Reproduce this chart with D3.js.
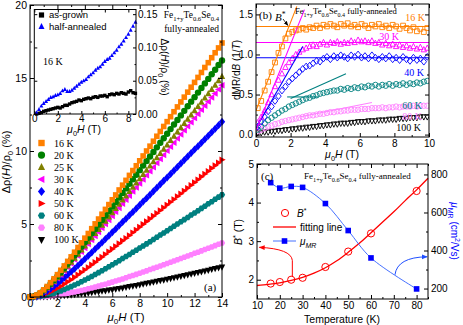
<!DOCTYPE html>
<html>
<head>
<meta charset="utf-8">
<script src="https://cdn.jsdelivr.net/npm/d3@7"></script>
<style>
  body { margin: 0; background: #fff; }
  svg { display: block; }
</style>
</head>
<body>
<svg id="fig" width="463" height="325"></svg>
<script>
var SANS = '"Liberation Sans", Arial, sans-serif',
    SERIF = '"Liberation Serif", "Times New Roman", serif';

// ---- panel (a): MR vs field, fully-annealed ----
var fieldA = [0,0.25,0.5,0.75,1,1.25,1.5,1.75,2,2.25,2.5,2.75,3,3.25,3.5,3.75,4,4.25,4.5,4.75,5,5.25,5.5,5.75,6,6.25,6.5,6.75,7,7.25,7.5,7.75,8,8.25,8.5,8.75,9,9.25,9.5,9.75,10,10.25,10.5,10.75,11,11.25,11.5,11.75,12,12.25,12.5,12.75,13,13.25,13.5,13.75,14];
var mr16 = [0,.04,.14,.29,.49,.72,.98,1.25,1.53,1.83,2.13,2.44,2.75,3.07,3.39,3.71,4.03,4.35,4.68,5.01,5.34,5.67,6.0,6.33,6.66,6.99,7.33,7.66,7.99,8.33,8.66,8.99,9.33,9.66,10.0,10.33,10.67,11.01,11.34,11.68,12.01,12.35,12.69,13.02,13.36,13.69,14.03,14.37,14.7,15.04,15.38,15.72,16.05,16.39,16.73,17.06,17.4];
var mr20 = [0,.03,.13,.27,.46,.67,.91,1.16,1.43,1.70,1.98,2.27,2.56,2.86,3.15,3.45,3.75,4.05,4.36,4.66,4.97,5.28,5.58,5.89,6.20,6.51,6.82,7.13,7.44,7.75,8.06,8.37,8.69,9.0,9.31,9.62,9.93,10.25,10.56,10.87,11.18,11.5,11.81,12.12,12.44,12.75,13.06,13.38,13.69,14.0,14.32,14.63,14.94,15.26,15.57,15.89,16.2];
var mr25 = [0,.03,.12,.25,.43,.63,.85,1.08,1.33,1.59,1.85,2.12,2.39,2.66,2.94,3.22,3.5,3.78,4.06,4.35,4.63,4.92,5.2,5.49,5.78,6.07,6.36,6.65,6.93,7.23,7.52,7.81,8.1,8.39,8.68,8.97,9.26,9.55,9.84,10.13,10.42,10.72,11.01,11.3,11.59,11.88,12.18,12.47,12.76,13.05,13.35,13.64,13.93,14.22,14.51,14.81,15.1];
var mr30 = [0,.03,.11,.24,.41,.6,.81,1.04,1.28,1.52,1.77,2.03,2.29,2.56,2.82,3.09,3.36,3.63,3.9,4.17,4.45,4.72,5.0,5.27,5.55,5.83,6.1,6.38,6.66,6.94,7.22,7.5,7.77,8.05,8.33,8.61,8.89,9.17,9.45,9.73,10.01,10.29,10.57,10.85,11.13,11.41,11.69,11.97,12.25,12.53,12.82,13.1,13.38,13.66,13.94,14.22,14.5];
var mr40 = [0,.02,.07,.16,.28,.41,.57,.74,.92,1.12,1.31,1.52,1.73,1.94,2.16,2.38,2.6,2.83,3.05,3.28,3.51,3.74,3.97,4.2,4.43,4.66,4.9,5.13,5.36,5.6,5.83,6.07,6.3,6.54,6.77,7.01,7.25,7.48,7.72,7.96,8.19,8.43,8.67,8.91,9.14,9.38,9.62,9.86,10.1,10.33,10.57,10.81,11.05,11.29,11.53,11.77,12.0];
var mr50 = [0,.01,.04,.1,.17,.26,.36,.48,.61,.74,.89,1.04,1.19,1.35,1.52,1.69,1.86,2.03,2.21,2.38,2.56,2.74,2.92,3.11,3.29,3.47,3.66,3.85,4.03,4.22,4.41,4.6,4.79,4.98,5.17,5.36,5.55,5.74,5.93,6.12,6.31,6.5,6.69,6.89,7.08,7.27,7.46,7.66,7.85,8.04,8.24,8.43,8.62,8.82,9.01,9.2,9.4];
var mr60 = [0,.01,.02,.05,.09,.14,.2,.26,.34,.42,.51,.61,.71,.82,.93,1.04,1.16,1.28,1.41,1.54,1.67,1.8,1.93,2.07,2.21,2.34,2.48,2.63,2.77,2.91,3.06,3.2,3.35,3.5,3.64,3.79,3.94,4.09,4.24,4.39,4.54,4.69,4.84,5.0,5.15,5.3,5.45,5.61,5.76,5.91,6.07,6.22,6.38,6.53,6.69,6.84,7.0];
var mr80 = [0,0,.01,.02,.03,.05,.08,.11,.14,.17,.21,.25,.3,.34,.4,.45,.5,.56,.62,.69,.75,.82,.88,.95,1.02,1.1,1.17,1.24,1.32,1.4,1.47,1.55,1.63,1.71,1.79,1.88,1.96,2.04,2.12,2.21,2.29,2.38,2.46,2.55,2.64,2.72,2.81,2.9,2.99,3.07,3.16,3.25,3.34,3.43,3.52,3.61,3.7];
var mr100 = [0,0,0,.01,.02,.02,.04,.05,.06,.08,.1,.12,.14,.16,.18,.21,.24,.27,.3,.33,.36,.4,.43,.47,.5,.54,.58,.62,.66,.71,.75,.79,.84,.88,.93,.97,1.02,1.07,1.12,1.16,1.21,1.26,1.31,1.36,1.41,1.47,1.52,1.57,1.62,1.67,1.73,1.78,1.83,1.89,1.94,2.0,2.05];

// inset of (a): 16 K, other samples
var fieldInset = [0.2,0.4,0.6,0.8,1,1.2,1.4,1.6,1.8,2,2.2,2.4,2.6,2.8,3,3.2,3.4,3.6,3.8,4,4.2,4.4,4.6,4.8,5,5.2,5.4,5.6,5.8,6,6.2,6.4,6.6,6.8,7,7.2,7.4,7.6,7.8,8,8.2,8.4,8.6];
var asGrown = [0,.001,.002,.004,.005,.006,.007,.008,.009,.010,.009,.011,.013,.013,.015,.017,.018,.019,.021,.020,.022,.023,.024,.023,.025,.026,.025,.027,.027,.028,.026,.029,.030,.029,.031,.030,.032,.031,.030,.033,.035,.032,.031];
var halfAnnealed = [.002,.007,.012,.016,.019,.022,.025,.026,.028,.029,.031,.035,.037,.034,.034,.036,.039,.042,.045,.048,.050,.052,.056,.059,.062,.066,.069,.071,.075,.079,.082,.084,.088,.092,.096,.101,.105,.110,.115,.120,.126,.132,.138];

// ---- panel (b): dMR/dB ----
var fieldB = [0.1,0.3,0.5,0.7,0.9,1.1,1.3,1.5,1.7,1.9,2.1,2.3,2.5,2.7,2.9,3.1,3.3,3.5,3.7,3.9,4.1,4.3,4.5,4.7,4.9,5.1,5.3,5.5,5.7,5.9,6.1,6.3,6.5,6.7,6.9,7.1,7.3,7.5,7.7,7.9,8.1,8.3,8.5,8.7,8.9,9.1,9.3,9.5,9.7,9.9];
var d16 = [.33,.42,.55,.66,.78,.90,1.02,1.1,1.2,1.26,1.28,1.3,1.31,1.33,1.31,1.34,1.33,1.36,1.33,1.37,1.35,1.38,1.36,1.34,1.38,1.36,1.39,1.35,1.37,1.34,1.38,1.36,1.33,1.37,1.35,1.38,1.34,1.36,1.33,1.37,1.35,1.32,1.36,1.33,1.3,1.34,1.29,1.32,1.28,1.33];
var d30 = [.15,.22,.3,.4,.5,.6,.68,.76,.84,.9,.95,1.0,1.03,1.06,1.08,1.1,1.12,1.1,1.13,1.15,1.12,1.15,1.14,1.16,1.13,1.15,1.14,1.17,1.15,1.18,1.16,1.17,1.15,1.17,1.14,1.15,1.12,1.14,1.11,1.13,1.1,1.12,1.09,1.11,1.08,1.1,1.07,1.09,1.06,1.08];
var d40 = [.1,.16,.22,.29,.35,.42,.48,.55,.6,.66,.7,.74,.78,.82,.85,.86,.89,.92,.91,.95,.97,.94,.98,.96,.99,.97,.95,.99,.97,1.0,.96,.98,.95,.99,.96,.94,.97,.95,.98,.94,.96,.93,.97,.94,.92,.96,.93,.95,.91,.97];
var d60 = [.06,.1,.14,.18,.21,.24,.27,.3,.32,.35,.37,.39,.41,.43,.45,.46,.48,.49,.51,.52,.53,.54,.55,.55,.57,.56,.58,.57,.59,.58,.6,.59,.61,.6,.62,.6,.62,.61,.63,.61,.63,.62,.64,.62,.64,.63,.65,.64,.66,.67];
var d80 = [.04,.06,.08,.1,.11,.13,.14,.16,.17,.18,.19,.2,.21,.22,.23,.24,.24,.25,.26,.26,.27,.28,.28,.29,.29,.3,.3,.31,.31,.31,.32,.32,.32,.33,.33,.33,.34,.33,.34,.34,.35,.34,.35,.35,.35,.36,.35,.36,.36,.36];
var d100 = [.02,.02,.03,.03,.04,.04,.05,.05,.06,.06,.07,.07,.08,.08,.09,.09,.1,.1,.11,.11,.12,.12,.13,.13,.14,.14,.14,.15,.15,.16,.16,.16,.17,.17,.17,.18,.18,.18,.19,.19,.19,.2,.2,.2,.21,.21,.21,.22,.22,.22];

// fitted lines of (b), end points [field, dMR/dB]
var fit16 = [[[0, 0.3], [2.36, 1.6]], [[0, 1.35], [10, 1.35]]];
var fit30 = [[[0, 0.05], [2.8, 1.56]], [[0, 1.15], [10, 1.15]]];
var fit40 = [[[0, 0.08], [2.7, 1.1]], [[0, 0.96], [10, 0.96]]];
var fit60 = [[[1.8, 0.47], [3.6, 0.47]], [[2.0, 0.45], [5.2, 0.76]]];
var fit80 = [[[2.5, 0.22], [6.7, 0.40]]];

// ---- panel (c): B* and mobility vs T ----
var tempC = [16, 20, 25, 30, 40, 50, 60, 80];
var bStar = [1.9, 1.94, 2.0, 2.05, 2.33, 2.73, 3.2, 4.3];
var muMR = [757, 728, 737, 732, 647, 505, 361, 198];
var fitT = [10,15,20,25,30,35,40,45,50,55,60,65,70,75,80,85];
var fitB = [1.85,1.88,1.92,1.98,2.06,2.17,2.31,2.49,2.71,2.95,3.22,3.49,3.76,4.05,4.33,4.63];

var seriesA = [
    {label: '16 K', color: '#ff8000', shape: 'square', v: mr16},
    {label: '20 K', color: '#008000', shape: 'circle', v: mr20},
    {label: '25 K', color: '#808000', shape: 'up', v: mr25},
    {label: '30 K', color: '#ff00ff', shape: 'left', v: mr30},
    {label: '40 K', color: '#0000ff', shape: 'diamond', v: mr40},
    {label: '50 K', color: '#ff0000', shape: 'right', v: mr50},
    {label: '60 K', color: '#008080', shape: 'hex', v: mr60},
    {label: '80 K', color: '#ff80ff', shape: 'hex', v: mr80},
    {label: '100 K', color: '#000000', shape: 'down', v: mr100}
];

var seriesB = [
    {label: '100 K', color: '#000000', shape: 'down', v: d100, fits: []},
    {label: '80 K', color: '#ff80ff', shape: 'circle', v: d80, fits: fit80},
    {label: '60 K', color: '#008080', shape: 'circle', v: d60, fits: fit60},
    {label: '40 K', color: '#0000ff', shape: 'diamond', v: d40, fits: fit40},
    {label: '30 K', color: '#ff00ff', shape: 'up', v: d30, fits: fit30},
    {label: '16 K', color: '#ff8000', shape: 'square', v: d16, fits: fit16}
];

var svg = d3.select('#fig');

function markerPath(shape, r) {
    var pts;
    switch (shape) {
    case 'square':
        return 'M' + (-r) + ',' + (-r) + 'h' + 2 * r + 'v' + 2 * r + 'h' + (-2 * r) + 'Z';
    case 'circle':
        return 'M' + r + ',0A' + r + ',' + r + ' 0 1,1 ' + (-r) + ',0A' + r + ',' + r + ' 0 1,1 ' + r + ',0Z';
    case 'diamond':
        pts = [[0, -r * 1.25], [r, 0], [0, r * 1.25], [-r, 0]]; break;
    case 'hex':
        pts = d3.range(6).map(function (i) { var a = Math.PI / 3 * i; return [r * Math.cos(a), r * Math.sin(a)]; }); break;
    case 'up':
        pts = [[0, -r * 1.15], [r, r * 0.8], [-r, r * 0.8]]; break;
    case 'down':
        pts = [[0, r * 1.15], [r, -r * 0.8], [-r, -r * 0.8]]; break;
    case 'left':
        pts = [[-r * 1.15, 0], [r * 0.8, -r], [r * 0.8, r]]; break;
    case 'right':
        pts = [[r * 1.15, 0], [-r * 0.8, -r], [-r * 0.8, r]]; break;
    }
    return 'M' + pts.map(function (p) { return p[0].toFixed(2) + ',' + p[1].toFixed(2); }).join('L') + 'Z';
}

// text with italic / sub / sup pieces
function rich(g, x, y, parts, size, font) {
    var t = g.append('text').attr('x', x).attr('y', y)
        .attr('font-size', size).attr('font-family', font || SANS);
    var shift = 0;
    parts.forEach(function (p) {
        if (typeof p === 'string') p = {t: p};
        var ts = t.append('tspan').text(p.t);
        var target = 0;
        if (p.sub) { target = size * 0.3; ts.attr('font-size', size * 0.7); }
        if (p.sup) { target = -size * 0.4; ts.attr('font-size', size * 0.7); }
        if (p.i) ts.attr('font-style', 'italic');
        if (target !== shift) { ts.attr('dy', target - shift); shift = target; }
    });
    return t;
}

function axis(g, gen, tr, vals, size, fmt, fs, pad) {
    gen.tickValues(vals).tickSize(size).tickPadding(pad == null ? 3 : pad).tickFormat(fmt || '');
    var a = g.append('g').attr('transform', tr).call(gen)
        .attr('font-family', SANS).attr('font-size', fs || 10);
    a.select('.domain').remove();
    a.selectAll('line').attr('stroke', '#000');
    a.selectAll('text').attr('fill', '#000');
    return a;
}

function frame(g, x, y) {
    g.append('rect')
        .attr('x', x.range()[0]).attr('y', y.range()[1])
        .attr('width', x.range()[1] - x.range()[0])
        .attr('height', y.range()[0] - y.range()[1])
        .attr('fill', 'none').attr('stroke', '#000').attr('stroke-width', 1);
}

function boxAxes(g, x, y, o) {
    var x0 = x.range()[0], x1 = x.range()[1], y0 = y.range()[0], y1 = y.range()[1];
    axis(g, d3.axisBottom(x), 'translate(0,' + y0 + ')', o.xt, -4, o.xf, o.fs);
    axis(g, d3.axisBottom(x), 'translate(0,' + y0 + ')', o.xm, -2);
    axis(g, d3.axisTop(x), 'translate(0,' + y1 + ')', o.xt, -4);
    axis(g, d3.axisTop(x), 'translate(0,' + y1 + ')', o.xm, -2);
    axis(g, d3.axisLeft(y), 'translate(' + x0 + ',0)', o.yt, -4, o.yf, o.fs);
    axis(g, d3.axisLeft(y), 'translate(' + x0 + ',0)', o.ym, -2);
    axis(g, d3.axisRight(y), 'translate(' + x1 + ',0)', o.yt, -4);
    axis(g, d3.axisRight(y), 'translate(' + x1 + ',0)', o.ym, -2);
    frame(g, x, y);
}

function formulaParts() {
    return ['Fe', {t: '1+y', sub: 1}, 'Te', {t: '0.6', sub: 1}, 'Se', {t: '0.4', sub: 1}];
}

var defs = svg.append('defs');
[['arrK', '#000'], ['arrR', '#ff0000'], ['arrB', '#2050ff']].forEach(function (m) {
    defs.append('marker').attr('id', m[0]).attr('viewBox', '0 0 10 10')
        .attr('refX', 9).attr('refY', 5).attr('markerWidth', 6).attr('markerHeight', 6)
        .attr('orient', 'auto-start-reverse')
        .append('path').attr('d', 'M0,1L10,5L0,9Z').attr('fill', m[1]);
});

// ======================= panel (a) =======================
var gA = svg.append('g');
var xA = d3.scaleLinear([0, 14], [30, 222]),
    yA = d3.scaleLinear([0, 20], [297, 5]);

seriesA.slice().reverse().forEach(function (s) {
    gA.append('g').selectAll('path').data(d3.zip(fieldA, s.v)).join('path')
        .attr('transform', function (d) { return 'translate(' + xA(d[0]) + ',' + yA(d[1]) + ')'; })
        .attr('d', markerPath(s.shape, s.shape === 'square' ? 2.8 : 3.2))
        .attr('fill', s.color);
});

boxAxes(gA, xA, yA, {
    xt: d3.range(0, 15, 2), xm: d3.range(1, 14, 2), xf: d3.format('d'),
    yt: [0, 5, 10, 15, 20], ym: [2.5, 7.5, 12.5, 17.5], yf: d3.format('d'), fs: 10.5
});

rich(gA, 126, 321, [{t: 'μ', i: 1}, {t: '0', sub: 1}, {t: 'H', i: 1}, ' (T)'], 11.5)
    .attr('text-anchor', 'middle');
rich(gA.append('g').attr('transform', 'translate(10,162) rotate(-90)'), 0, 0,
    ['Δρ(', {t: 'H', i: 1}, ')/ρ', {t: '0', sub: 1}, ' (%)'], 11)
    .attr('text-anchor', 'middle');

// legend (a)
var legA = gA.append('g');
seriesA.forEach(function (s, i) {
    var y = 143 + i * 12.1;
    legA.append('path').attr('transform', 'translate(41.5,' + y + ')')
        .attr('d', markerPath(s.shape, s.shape === 'square' ? 3.2 : 3.6)).attr('fill', s.color);
    legA.append('text').attr('x', 54).attr('y', y + 3.5)
        .attr('font-family', SERIF).attr('font-size', 10).text(s.label);
});

rich(gA, 219, 18, formulaParts(), 9.5, SERIF).attr('text-anchor', 'end');
gA.append('text').attr('x', 219).attr('y', 32).attr('text-anchor', 'end')
    .attr('font-family', SERIF).attr('font-size', 9.5).text('fully-annealed');
gA.append('text').attr('x', 204).attr('y', 291)
    .attr('font-family', SERIF).attr('font-size', 11).text('(a)');

// inset
var gI = svg.append('g');
var xI = d3.scaleLinear([0, 8.65], [34.3, 136]),
    yI = d3.scaleLinear([0, 0.157], [114, 9.5]);
gI.append('rect').attr('x', 34.3).attr('y', 9.5).attr('width', 136 - 34.3).attr('height', 114 - 9.5)
    .attr('fill', '#fff');
gI.append('g').selectAll('path').data(d3.zip(fieldInset, asGrown)).join('path')
    .attr('transform', function (d) { return 'translate(' + xI(d[0]) + ',' + yI(d[1]) + ')'; })
    .attr('d', markerPath('square', 1.7)).attr('fill', '#000');
gI.append('g').selectAll('path').data(d3.zip(fieldInset, halfAnnealed)).join('path')
    .attr('transform', function (d) { return 'translate(' + xI(d[0]) + ',' + yI(d[1]) + ')'; })
    .attr('d', markerPath('up', 2.0)).attr('fill', '#0000ff');

axis(gI, d3.axisBottom(xI), 'translate(0,114)', [0, 2, 4, 6, 8], -3, d3.format('d'), 10, 1);
axis(gI, d3.axisBottom(xI), 'translate(0,114)', [1, 3, 5, 7], -1.5);
axis(gI, d3.axisTop(xI), 'translate(0,9.5)', [0, 2, 4, 6, 8], -3);
axis(gI, d3.axisRight(yI), 'translate(136,0)', [0, 0.05, 0.1, 0.15], -3, d3.format('.2f'), 10, 2);
axis(gI, d3.axisRight(yI), 'translate(136,0)', [0.025, 0.075, 0.125], -1.5);
axis(gI, d3.axisLeft(yI), 'translate(34.3,0)', [0, 0.05, 0.1, 0.15], -3);
frame(gI, xI, yI);

rich(gI, 84, 133, [{t: 'μ', i: 1}, {t: '0', sub: 1}, {t: 'H', i: 1}, ' (T)'], 10.5)
    .attr('text-anchor', 'middle');
rich(gI.append('g').attr('transform', 'translate(161,67) rotate(90)'), 0, 0,
    ['Δρ(', {t: 'H', i: 1}, ')/ρ', {t: '0', sub: 1}, ' (%)'], 10)
    .attr('text-anchor', 'middle');
gI.append('path').attr('transform', 'translate(41.5,15)').attr('d', markerPath('square', 2.6));
gI.append('text').attr('x', 49).attr('y', 18).attr('font-family', SANS).attr('font-size', 9.5).text('as-grown');
gI.append('path').attr('transform', 'translate(41.5,26.5)').attr('d', markerPath('up', 3)).attr('fill', '#0000ff');
gI.append('text').attr('x', 49).attr('y', 29.5).attr('font-family', SANS).attr('font-size', 9.5).text('half-annealed');
gI.append('text').attr('x', 43).attr('y', 65).attr('font-family', SERIF).attr('font-size', 10).text('16 K');

// ======================= panel (b) =======================
var gB = svg.append('g');
var xB = d3.scaleLinear([0, 10], [256, 429]),
    yB = d3.scaleLinear([-0.03, 1.63], [137, 4]);

defs.append('clipPath').attr('id', 'clipB').append('rect')
    .attr('x', 256).attr('y', 4).attr('width', 173).attr('height', 133);

var plotB = gB.append('g').attr('clip-path', 'url(#clipB)');
seriesB.forEach(function (s) {
    plotB.append('g').selectAll('path').data(d3.zip(fieldB, s.v)).join('path')
        .attr('transform', function (d) { return 'translate(' + xB(d[0]) + ',' + yB(d[1]) + ')'; })
        .attr('d', markerPath(s.shape, s.shape === 'square' ? 2.4 : 2.7))
        .attr('fill', 'none').attr('stroke', s.color).attr('stroke-width', 0.9);
});
var lineB = d3.line().x(function (d) { return xB(d[0]); }).y(function (d) { return yB(d[1]); });
seriesB.forEach(function (s) {
    s.fits.forEach(function (f) {
        plotB.append('path').attr('d', lineB(f)).attr('fill', 'none')
            .attr('stroke', s.color).attr('stroke-width', 1.1);
    });
});

boxAxes(gB, xB, yB, {
    xt: [0, 2, 4, 6, 8, 10], xm: [1, 3, 5, 7, 9], xf: d3.format('d'),
    yt: [0, 0.5, 1, 1.5], ym: [0.25, 0.75, 1.25], yf: d3.format('.1f'), fs: 10
});

rich(gB, 342, 158, [{t: 'μ', i: 1}, {t: '0', sub: 1}, {t: 'H', i: 1}, ' (T)'], 10.5)
    .attr('text-anchor', 'middle');
rich(gB.append('g').attr('transform', 'translate(240,70) rotate(-90)'), 0, 0,
    ['dMR/d', {t: 'B', i: 1}, ' (1/', {t: 'T', i: 1}, ')'], 10)
    .attr('text-anchor', 'middle');

gB.append('text').attr('x', 259).attr('y', 19).attr('font-family', SERIF).attr('font-size', 11).text('(b)');
rich(gB, 275, 21, [{t: 'B', i: 1}, {t: '*', sup: 1}], 11, SERIF);
gB.append('line').attr('x1', 283).attr('y1', 19).attr('x2', xB(1.9) - 1).attr('y2', yB(1.35) - 1)
    .attr('stroke', '#000').attr('stroke-width', 0.8).attr('marker-end', 'url(#arrK)');
var fB = rich(gB, 295, 14, formulaParts(), 8.6, SERIF);
fB.append('tspan').attr('dy', -8.6 * 0.3).text(' fully-annealed');

var labB = [
    {t: '16 K', c: '#ff8000', x: 425, y: 21},
    {t: '30 K', c: '#ff00ff', x: 399, y: 40},
    {t: '40 K', c: '#0000ff', x: 424, y: 76},
    {t: '60 K', c: '#008080', x: 422, y: 109},
    {t: '80 K', c: '#ff80ff', x: 422, y: 120},
    {t: '100 K', c: '#000000', x: 421, y: 131}
];
labB.forEach(function (l) {
    gB.append('text').attr('x', l.x).attr('y', l.y).attr('text-anchor', 'end')
        .attr('font-family', SERIF).attr('font-size', 10).attr('fill', l.c).text(l.t);
});

// ======================= panel (c) =======================
var gC = svg.append('g');
var xC = d3.scaleLinear([10, 85], [257, 428]),
    yC = d3.scaleLinear([1.5, 5], [299, 164]),
    yC2 = d3.scaleLinear([145, 855], [299, 164]);

var lineC = d3.line().x(function (d) { return xC(d[0]); }).y(function (d) { return yC(d[1]); })
    .curve(d3.curveCatmullRom);
gC.append('path').attr('d', lineC(d3.zip(fitT, fitB))).attr('fill', 'none')
    .attr('stroke', '#ff0000').attr('stroke-width', 1.3);
var lineMu = d3.line().x(function (d) { return xC(d[0]); }).y(function (d) { return yC2(d[1]); })
    .curve(d3.curveCatmullRom);
gC.append('path').attr('d', lineMu(d3.zip(tempC, muMR))).attr('fill', 'none')
    .attr('stroke', '#3060ff').attr('stroke-width', 0.9);
gC.append('g').selectAll('path').data(d3.zip(tempC, muMR)).join('path')
    .attr('transform', function (d) { return 'translate(' + xC(d[0]) + ',' + yC2(d[1]) + ')'; })
    .attr('d', markerPath('square', 2.8)).attr('fill', '#0000ff');
gC.append('g').selectAll('path').data(d3.zip(tempC, bStar)).join('path')
    .attr('transform', function (d) { return 'translate(' + xC(d[0]) + ',' + yC(d[1]) + ')'; })
    .attr('d', markerPath('circle', 3.6)).attr('fill', 'none')
    .attr('stroke', '#ff0000').attr('stroke-width', 1);

// curved arrows pointing to the axes
gC.append('path')
    .attr('d', 'M' + xC(25.5) + ',' + yC(2.07) + 'L' + xC(25.5) + ',' + yC(2.5) +
        'Q' + xC(25) + ',' + yC(2.8) + ' ' + xC(11) + ',' + yC(2.84))
    .attr('fill', 'none').attr('stroke', '#ff0000').attr('stroke-width', 1)
    .attr('marker-end', 'url(#arrR)');
gC.append('path')
    .attr('d', 'M' + xC(70.5) + ',' + yC2(272) + 'Q' + xC(71.5) + ',' + yC2(365) + ' ' + xC(84.6) + ',' + yC2(367))
    .attr('fill', 'none').attr('stroke', '#2050ff').attr('stroke-width', 1)
    .attr('marker-end', 'url(#arrB)');

var x0 = 257, x1 = 428;
axis(gC, d3.axisBottom(xC), 'translate(0,299)', d3.range(10, 81, 10), -4, d3.format('d'), 10);
axis(gC, d3.axisBottom(xC), 'translate(0,299)', d3.range(15, 86, 10), -2);
axis(gC, d3.axisTop(xC), 'translate(0,164)', d3.range(10, 81, 10), -4);
axis(gC, d3.axisTop(xC), 'translate(0,164)', d3.range(15, 86, 10), -2);
axis(gC, d3.axisLeft(yC), 'translate(' + x0 + ',0)', [2, 3, 4, 5], -4, d3.format('d'), 10);
axis(gC, d3.axisLeft(yC), 'translate(' + x0 + ',0)', [2.5, 3.5, 4.5], -2);
axis(gC, d3.axisRight(yC2), 'translate(' + x1 + ',0)', [200, 400, 600, 800], -4, d3.format('d'), 10);
axis(gC, d3.axisRight(yC2), 'translate(' + x1 + ',0)', [300, 500, 700], -2);
frame(gC, xC, yC);

gC.append('text').attr('x', 342).attr('y', 323).attr('text-anchor', 'middle')
    .attr('font-family', SANS).attr('font-size', 10.5).text('Temperature (K)');
rich(gC.append('g').attr('transform', 'translate(242,232) rotate(-90)'), 0, 0,
    [{t: 'B', i: 1}, {t: '*', sup: 1}, ' (T)'], 10.5).attr('text-anchor', 'middle');
rich(gC.append('g').attr('transform', 'translate(451,231) rotate(90)'), 0, 0,
    [{t: 'μ', i: 1}, {t: 'MR', sub: 1}, ' (cm', {t: '2', sup: 1}, '/Vs)'], 10)
    .attr('text-anchor', 'middle').attr('fill', '#0000ff');

gC.append('text').attr('x', 261).attr('y', 180).attr('font-family', SERIF).attr('font-size', 11).text('(c)');
var fC = rich(gC, 304, 179, formulaParts(), 9, SERIF);
fC.append('tspan').attr('dy', -9 * 0.3).text(' fully-annealed');

// legend (c)
var legC = gC.append('g');
legC.append('path').attr('transform', 'translate(285,213)').attr('d', markerPath('circle', 3.6))
    .attr('fill', 'none').attr('stroke', '#ff0000');
rich(legC, 297, 216.5, [{t: 'B', i: 1}, {t: '*', sup: 1}], 10);
legC.append('line').attr('x1', 273).attr('x2', 296).attr('y1', 227).attr('y2', 227)
    .attr('stroke', '#ff0000').attr('stroke-width', 1.3);
legC.append('text').attr('x', 300).attr('y', 230.5).attr('font-family', SANS).attr('font-size', 10).text('fitting line');
legC.append('line').attr('x1', 273).attr('x2', 296).attr('y1', 241).attr('y2', 241)
    .attr('stroke', '#3060ff').attr('stroke-width', 0.9);
legC.append('path').attr('transform', 'translate(284.5,241)').attr('d', markerPath('square', 2.8)).attr('fill', '#0000ff');
rich(legC, 300, 244.5, [{t: 'μ', i: 1}, {t: 'MR', sub: 1, i: 1}], 10);
</script>
</body>
</html>
